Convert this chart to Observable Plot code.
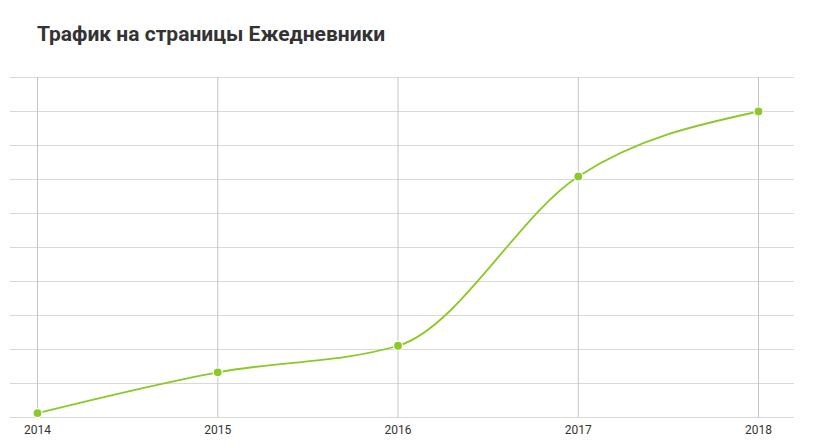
<!DOCTYPE html>
<html>
<head>
<meta charset="utf-8">
<script src="https://cdn.jsdelivr.net/npm/d3@7"></script>
<script src="https://cdn.jsdelivr.net/npm/@observablehq/plot@0.6"></script>
<style>
  html, body { margin: 0; padding: 0; background: #fff; }
  #title { height: 60px; box-sizing: border-box; padding: 22px 0 0 37px; font-family: Roboto, sans-serif; font-weight: bold; font-size: 21px; color: #333; line-height: 25px; }
</style>
</head>
<body>
<div id="title">Трафик на страницы Ежедневники</div>
<div id="chart"></div>
<script>
const years = [2014, 2015, 2016, 2017, 2018];
const traffic = [0.13, 1.33, 2.11, 7.09, 9.0];
const gridValues = [0, 1, 2, 3, 4, 5, 6, 7, 8, 9, 10];

const data = years.map((y, i) => ({year: y, value: traffic[i]}));
const green = "#8ac926";

const plot = Plot.plot({
  width: 818,
  height: 388,
  marginTop: 17,
  marginBottom: 31,
  marginLeft: 37,
  marginRight: 60,
  style: {fontFamily: "Roboto, sans-serif", fontSize: "12px", color: "#333", background: "#fff"},
  x: {domain: [2014, 2018], axis: null, label: null},
  y: {domain: [0, 10], axis: null},
  marks: [
    Plot.ruleY(gridValues, {stroke: "#d9d9d9", strokeWidth: 1.2, insetLeft: -27, insetRight: -36}),
    Plot.ruleX(years, {stroke: "#c4c4c4", strokeWidth: 1}),
    Plot.axisX(years, {tickSize: 0, tickPadding: 8, tickFormat: d => String(d), fontSize: 12, fill: "#333", label: null}),
    Plot.line(data, {x: "year", y: "value", stroke: green, strokeWidth: 1.8, curve: "monotone-x"}),
    Plot.dot(data, {x: "year", y: "value", r: 4.5, fill: green, stroke: "#fff", strokeWidth: 1.2})
  ]
});
document.getElementById("chart").appendChild(plot);
</script>
</body>
</html>
